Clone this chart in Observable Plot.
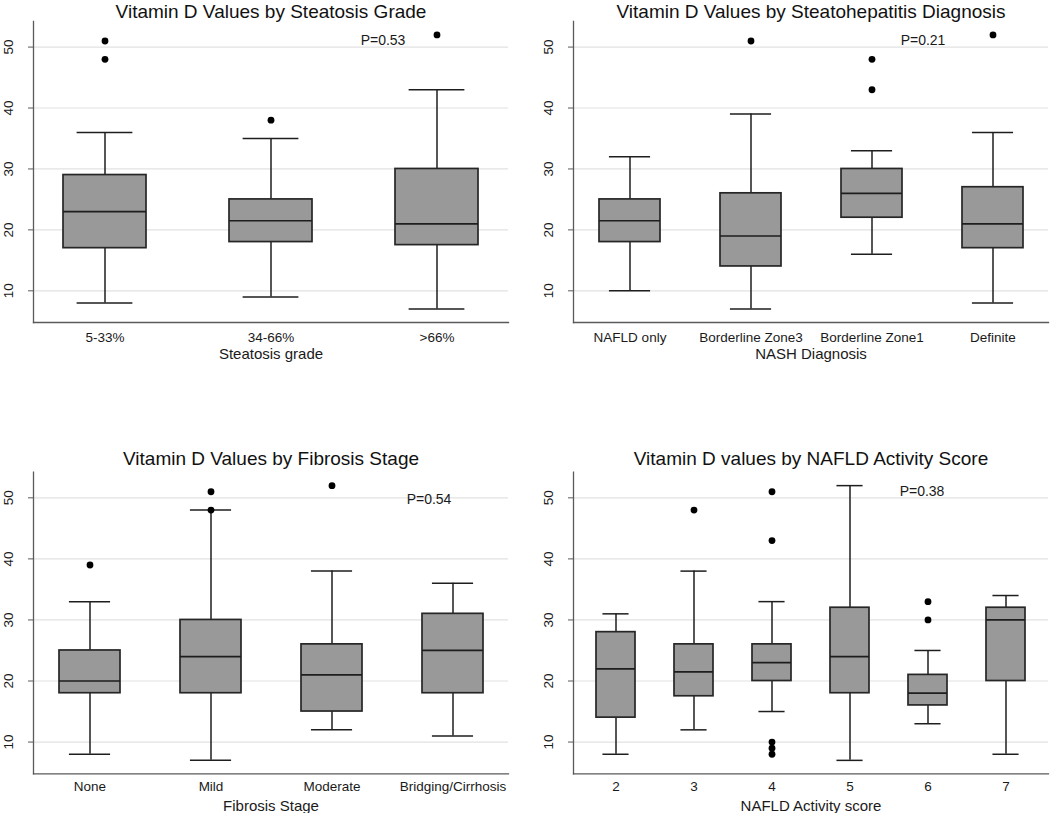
<!DOCTYPE html>
<html>
<head>
<meta charset="utf-8">
<script src="https://cdn.jsdelivr.net/npm/d3@7"></script>
<script src="https://cdn.jsdelivr.net/npm/@observablehq/plot@0.6"></script>
<style>
  html, body { margin: 0; padding: 0; background: #fff; }
  #root { position: relative; width: 1050px; height: 813px; overflow: hidden; font-family: "Liberation Sans", Arial, sans-serif; }
  .panel { position: absolute; }
</style>
</head>
<body>
<div id="root"></div>
<script>
// ---------- Data ----------
const yTicks = [10, 20, 30, 40, 50];

// Panel 1: Steatosis grade
const steatosisCats = ["5-33%", "34-66%", ">66%"];
const steatosisLo  = [8, 9, 7];
const steatosisQ1  = [17, 18, 17.5];
const steatosisMed = [23, 21.5, 21];
const steatosisQ3  = [29, 25, 30];
const steatosisHi  = [36, 35, 43];
const steatosisOutCat = ["5-33%", "5-33%", "34-66%", ">66%"];
const steatosisOutVal = [51, 48, 38, 52];

// Panel 2: NASH diagnosis
const nashCats = ["NAFLD only", "Borderline Zone3", "Borderline Zone1", "Definite"];
const nashLo  = [10, 7, 16, 8];
const nashQ1  = [18, 14, 22, 17];
const nashMed = [21.5, 19, 26, 21];
const nashQ3  = [25, 26, 30, 27];
const nashHi  = [32, 39, 33, 36];
const nashOutCat = ["Borderline Zone3", "Borderline Zone1", "Borderline Zone1", "Definite"];
const nashOutVal = [51, 48, 43, 52];

// Panel 3: Fibrosis stage
const fibrosisCats = ["None", "Mild", "Moderate", "Bridging/Cirrhosis"];
const fibrosisLo  = [8, 7, 12, 11];
const fibrosisQ1  = [18, 18, 15, 18];
const fibrosisMed = [20, 24, 21, 25];
const fibrosisQ3  = [25, 30, 26, 31];
const fibrosisHi  = [33, 48, 38, 36];
const fibrosisOutCat = ["None", "Mild", "Mild", "Moderate"];
const fibrosisOutVal = [39, 51, 48, 52];

// Panel 4: NAFLD activity score
const nasCats = ["2", "3", "4", "5", "6", "7"];
const nasLo  = [8, 12, 15, 7, 13, 8];
const nasQ1  = [14, 17.5, 20, 18, 16, 20];
const nasMed = [22, 21.5, 23, 24, 18, 30];
const nasQ3  = [28, 26, 26, 32, 21, 32];
const nasHi  = [31, 38, 33, 52, 25, 34];
const nasOutCat = ["3", "4", "4", "4", "4", "4", "6", "6"];
const nasOutVal = [48, 51, 43, 10, 9, 8, 33, 30];

// Titles, axis labels, p-values
const titles = [
  "Vitamin D Values by Steatosis Grade",
  "Vitamin D Values by Steatohepatitis Diagnosis",
  "Vitamin D Values by Fibrosis Stage",
  "Vitamin D values by NAFLD Activity Score"
];
const xLabels = ["Steatosis grade", "NASH Diagnosis", "Fibrosis Stage", "NAFLD Activity score"];
const pTexts = ["P=0.53", "P=0.21", "P=0.54", "P=0.38"];
const pCats  = [">66%", "Borderline Zone1", "Bridging/Cirrhosis", "6"];
const pVals  = [51, 51, 49.8, 51];

// ---------- Build ----------
const datasets = [
  [steatosisCats, steatosisLo, steatosisQ1, steatosisMed, steatosisQ3, steatosisHi, steatosisOutCat, steatosisOutVal],
  [nashCats, nashLo, nashQ1, nashMed, nashQ3, nashHi, nashOutCat, nashOutVal],
  [fibrosisCats, fibrosisLo, fibrosisQ1, fibrosisMed, fibrosisQ3, fibrosisHi, fibrosisOutCat, fibrosisOutVal],
  [nasCats, nasLo, nasQ1, nasMed, nasQ3, nasHi, nasOutCat, nasOutVal]
];

const layouts = [
  {left: 0,   top: 0,   height: 400, mt: 21,   mb: 78,   ml: 33, mr: 17, po: 0.18, pdx: -54, tp: 10, tdy: -4},
  {left: 525, top: 0,   height: 400, mt: 21,   mb: 78,   ml: 48, mr: 2,  po: 0.21, pdx: 51,  tp: 10, tdy: -4},
  {left: 0,   top: 400, height: 413, mt: 71.7, mb: 39.7, ml: 33, mr: 17, po: 0.21, pdx: -24, tp: 8,  tdy: -7},
  {left: 525, top: 400, height: 413, mt: 71.7, mb: 39.7, ml: 48, mr: 2,  po: 0.275, pdx: -6, tp: 8,  tdy: -7}
];

const root = document.getElementById("root");

datasets.forEach((ds, k) => {
  const [cats, lo, q1, med, q3, hi, outCat, outVal] = ds;
  const L = layouts[k];
  const boxes = cats.map((c, i) => ({cat: c, lo: lo[i], q1: q1[i], med: med[i], q3: q3[i], hi: hi[i]}));
  const outliers = outCat.map((c, i) => ({cat: c, v: outVal[i]}));
  const W = 525 - L.ml - L.mr;
  const step = W / (cats.length - 0.5 + 2 * L.po);
  const capInset = step * 0.082;
  const axisColor = "#5a5a5a";
  const ink = "#1e1e1e";

  const chart = Plot.plot({
    width: 525,
    height: L.height,
    marginTop: L.mt,
    marginBottom: L.mb,
    marginLeft: L.ml,
    marginRight: L.mr,
    style: {fontFamily: "'Liberation Sans', Arial, sans-serif", fontSize: "13.5px", background: "transparent", overflow: "visible", color: "#1a1a1a"},
    x: {type: "band", domain: cats, paddingInner: 0.5, paddingOuter: L.po, label: null},
    y: {domain: [4.8, 54.2], label: null},
    marks: [
      Plot.gridY(yTicks, {stroke: "#e2e2e2", strokeOpacity: 1, strokeWidth: 1.2}),
      Plot.frame({anchor: "left", stroke: axisColor, strokeWidth: 1.3}),
      Plot.frame({anchor: "bottom", stroke: axisColor, strokeWidth: 1.3}),
      Plot.axisY({ticks: yTicks, tickSize: 5, tickRotate: -90, tickPadding: 16, stroke: axisColor, label: null}),
      Plot.axisX({tickSize: 0, tickPadding: L.tp, label: null}),
      Plot.ruleX(boxes, {x: "cat", y1: "q3", y2: "hi", stroke: ink, strokeWidth: 1.5}),
      Plot.ruleX(boxes, {x: "cat", y1: "lo", y2: "q1", stroke: ink, strokeWidth: 1.5}),
      Plot.tickY(boxes, {x: "cat", y: "hi", stroke: ink, strokeWidth: 1.5, insetLeft: capInset, insetRight: capInset}),
      Plot.tickY(boxes, {x: "cat", y: "lo", stroke: ink, strokeWidth: 1.5, insetLeft: capInset, insetRight: capInset}),
      Plot.barY(boxes, {x: "cat", y1: "q1", y2: "q3", fill: "#999999", stroke: "#262626", strokeWidth: 1.7}),
      Plot.tickY(boxes, {x: "cat", y: "med", stroke: ink, strokeWidth: 1.7}),
      Plot.dot(outliers, {x: "cat", y: "v", r: 3.4, fill: "#000", stroke: null}),
      Plot.text([pTexts[k]], {x: () => pCats[k], y: () => pVals[k], dx: L.pdx, text: d => d, fontSize: 14, lineAnchor: "middle", fill: "#1a1a1a"}),
      Plot.text([titles[k]], {frameAnchor: "top", dy: L.tdy, lineAnchor: "bottom", text: d => d, fontSize: 19, fill: "#111"}),
      Plot.text([xLabels[k]], {frameAnchor: "bottom", dy: 32, lineAnchor: "middle", text: d => d, fontSize: 15, fill: "#1a1a1a"})
    ]
  });
  const div = document.createElement("div");
  div.className = "panel";
  div.style.left = L.left + "px";
  div.style.top = L.top + "px";
  div.appendChild(chart);
  root.appendChild(div);
});
</script>
</body>
</html>
